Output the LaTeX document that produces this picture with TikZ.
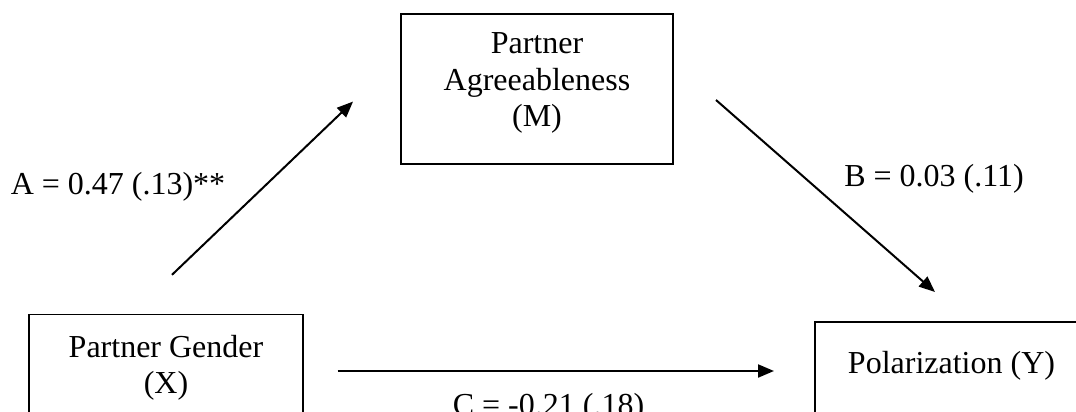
\documentclass[tikz,border=0pt]{standalone}
\usepackage{fontspec}
\setmainfont{Liberation Serif}
\usetikzlibrary{arrows.meta}
\begin{document}
\begin{tikzpicture}[x=1pt,y=-1pt,
  boxnode/.style={draw=black, line width=1.7pt, rectangle, inner sep=0pt},
  txt/.style={font=\fontsize{32}{36.5}\selectfont, inner sep=0pt, align=center, anchor=base},
  pathar/.style={line width=2pt, -{Triangle[length=16pt,width=13pt]}}]
\useasboundingbox (0,0) rectangle (1076,412);
\clip (0,0) rectangle (1076,412);
% boxes
\node[boxnode, minimum width=272.6pt, minimum height=150pt] (M) at (537,89.3) {};
\node[boxnode, minimum width=273.7pt, minimum height=105.6pt] (X) at (166.15,367.2) {};
\node[boxnode, minimum width=275pt, minimum height=98.2pt] (Y) at (952.5,370.9) {};
% box texts (anchor base = baseline of the last line)
\node[txt] (Mt) at (537,126.5) {Partner\\Agreeableness\\(M)};
\node[txt] (Xt) at (166,393.5) {Partner Gender\\(X)};
\node[txt] (Yt) at (951.5,373.8) {Polarization (Y)};
% path labels
\node[txt] (At) at (118,194.6) {A = 0.47 (.13)**};
\node[txt] (Bt) at (934,186) {B = 0.03 (.11)};
\node[txt] (Ct) at (548.5,415.7) {C = -0.21 (.18)};
% arrow end points
\coordinate (a0) at (172,274.8);
\coordinate (a1) at (353,101.6);
\coordinate (b0) at (716,100);
\coordinate (b1) at (935,292);
\coordinate (c0) at (337.5,371);
\coordinate (c1) at (774,371);
\draw[pathar] (a0) -- (a1);
\draw[pathar] (b0) -- (b1);
\draw[pathar] (c0) -- (c1);
\end{tikzpicture}
\end{document}
